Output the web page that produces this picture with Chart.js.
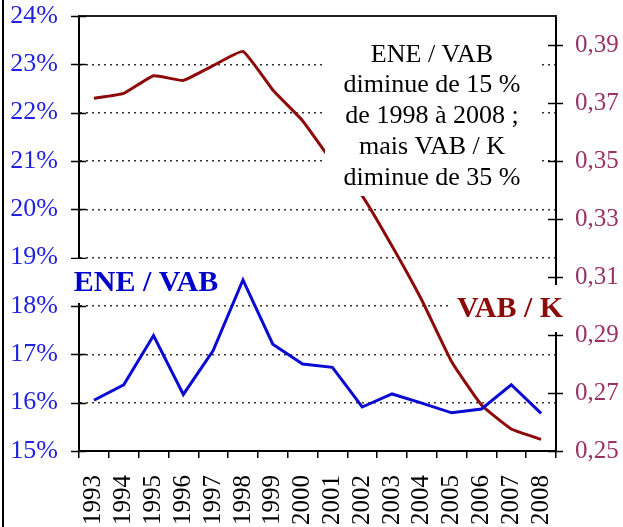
<!DOCTYPE html>
<html>
<head>
<meta charset="utf-8">
<script src="https://cdn.jsdelivr.net/npm/chart.js@4/dist/chart.umd.min.js"></script>
<style>
html,body{margin:0;padding:0;background:#fff;}
#wrap{width:623px;height:527px;position:relative;}
</style>
</head>
<body>
<div id="wrap"><canvas id="c" width="623" height="527"></canvas></div>
<script>
const years = ['1993','1994','1995','1996','1997','1998','1999','2000','2001','2002','2003','2004','2005','2006','2007','2008'];
const eneVab = [16.05, 16.37, 17.39, 16.17, 17.08, 18.54, 17.21, 16.80, 16.73, 15.91, 16.18, 15.99, 15.79, 15.87, 16.37, 15.78];
const vabK = [0.3716, 0.3733, 0.3794, 0.3778, 0.3829, 0.3878, 0.3745, 0.3639, 0.3497, 0.3380, 0.3207, 0.3020, 0.2808, 0.2659, 0.2576, 0.2540];
const leftTicks = [15, 16, 17, 18, 19, 20, 21, 22, 23, 24];
const rightTicks = [0.25, 0.27, 0.29, 0.31, 0.33, 0.35, 0.37, 0.39];
const noteLines = ['ENE / VAB', 'diminue de 15 %', 'de 1998 à 2008 ;', 'mais VAB / K', 'diminue de 35 %'];
const labelEne = 'ENE / VAB';
const labelVab = 'VAB / K';

const SERIF = '"Liberation Serif", "Times New Roman", serif';
const BLUE = '#0a0ad2';
const BLUE_TXT = '#2222e0';
const RED = '#8c0a0a';
const PURPLE = '#993366';

const overlay = {
  id: 'overlay',
  afterDraw(chart) {
    const ctx = chart.ctx;
    const a = chart.chartArea;
    const yl = chart.scales.yL, yr = chart.scales.yR;
    ctx.save();
    ctx.fillStyle = '#000';
    ctx.fillRect(2, 0, 2, 527);
    ctx.strokeStyle = '#222';
    ctx.lineWidth = 2;
    ctx.beginPath(); ctx.moveTo(a.left, a.top); ctx.lineTo(a.right + 1, a.top); ctx.stroke();
    ctx.strokeStyle = '#000';
    ctx.lineWidth = 1.5;
    leftTicks.forEach(v => {
      const y = Math.round(yl.getPixelForValue(v)) + 0.5;
      ctx.beginPath(); ctx.moveTo(a.left - 8, y); ctx.lineTo(a.left + 7, y); ctx.stroke();
    });
    rightTicks.forEach(v => {
      const y = Math.round(yr.getPixelForValue(v)) + 0.5;
      ctx.beginPath(); ctx.moveTo(a.right - 8, y); ctx.lineTo(a.right + 7, y); ctx.stroke();
    });
    ctx.fillStyle = '#fff';
    ctx.fillRect(325, 26, 215, 170);
    ctx.fillStyle = '#000';
    ctx.font = '26px ' + SERIF;
    ctx.textAlign = 'center';
    ctx.textBaseline = 'alphabetic';
    const bases = [62, 92, 123, 154, 185];
    noteLines.forEach((t, i) => ctx.fillText(t, 432, bases[i]));
    ctx.fillStyle = '#fff';
    ctx.fillRect(68, 259, 158, 44);
    ctx.fillStyle = '#0000cc';
    ctx.font = 'bold 30px ' + SERIF;
    ctx.fillText(labelEne, 146, 291);
    ctx.fillStyle = '#fff';
    ctx.fillRect(452, 285, 116, 47);
    ctx.fillStyle = RED;
    ctx.fillText(labelVab, 510, 317);
    ctx.restore();
  }
};

new Chart(document.getElementById('c'), {
  type: 'line',
  data: {
    labels: years,
    datasets: [
      {label: 'ENE / VAB', data: eneVab, yAxisID: 'yL', borderColor: BLUE, borderWidth: 3, pointRadius: 0, tension: 0, fill: false},
      {label: 'VAB / K', data: vabK, yAxisID: 'yR', borderColor: RED, borderWidth: 3, pointRadius: 0, tension: 0.12, fill: false}
    ]
  },
  options: {
    responsive: false,
    animation: false,
    devicePixelRatio: 1,
    layout: {padding: {top: 16, left: 0, right: 0, bottom: 0}},
    plugins: {legend: {display: false}, tooltip: {enabled: false}},
    scales: {
      x: {
        type: 'category',
        offset: true,
        grid: {display: true, offset: true, drawOnChartArea: false, drawTicks: true, tickLength: 7, color: '#000', lineWidth: 1.5},
        border: {display: true, color: '#000', width: 2},
        ticks: {color: '#000', font: {family: SERIF, size: 25}, minRotation: 90, maxRotation: 90, padding: 17, autoSkip: false},
        afterFit(s) { s.height = 76; s.paddingLeft = 0; s.paddingRight = 0; }
      },
      yL: {
        position: 'left',
        min: 15, max: 24,
        afterBuildTicks(s) { s.ticks = leftTicks.map(v => ({value: v})); },
        grid: {
          drawTicks: false,
          lineWidth: 1.5,
          color: c => (c.tick && c.tick.value > 15 && c.tick.value < 24) ? '#333' : 'rgba(0,0,0,0)'
        },
        border: {display: true, color: '#000', width: 2, dash: [2, 4]},
        ticks: {color: BLUE_TXT, font: {family: SERIF, size: 26}, padding: 21, callback: v => v + '%'},
        afterFit(s) { s.width = 79; s.paddingTop = 0; s.paddingBottom = 0; }
      },
      yR: {
        position: 'right',
        min: 0.25, max: 0.40,
        afterBuildTicks(s) { s.ticks = rightTicks.map(v => ({value: v})); },
        grid: {display: false, drawOnChartArea: false, drawTicks: false},
        border: {display: true, color: '#000', width: 2},
        ticks: {color: PURPLE, font: {family: SERIF, size: 25}, padding: 19, callback: v => v.toFixed(2).replace('.', ',')},
        afterFit(s) { s.width = 67; s.paddingTop = 0; s.paddingBottom = 0; }
      }
    }
  },
  plugins: [overlay]
});
</script>
</body>
</html>
